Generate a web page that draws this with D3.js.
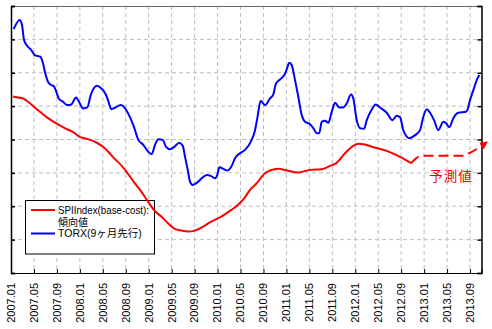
<!DOCTYPE html>
<html><head><meta charset="utf-8">
<script src="https://cdn.jsdelivr.net/npm/d3@7"></script>
<style>
html,body{margin:0;padding:0;background:#fff;}
svg{display:block;font-family:"Liberation Sans",Arial,"Noto Sans CJK JP",sans-serif;}
</style></head>
<body><svg id="c" width="492" height="329"></svg>
<script>
// x tick labels (every 4 months from 2007.01)
const tickLabels = ["2007.01","2007.05","2007.09","2008.01","2008.05","2008.09","2009.01","2009.05","2009.09","2010.01","2010.05","2010.09","2011.01","2011.05","2011.09","2012.01","2012.05","2012.09","2013.01","2013.05","2013.09"];
// months elapsed since 2007.01 for each tick
const tickMonths = tickLabels.map((d,i)=>i*4);

// TORX (9-month lead), months since 2007.01 and index value
const torxMonth = [0.47,1.52,1.92,2.27,2.79,3.54,4.13,5.11,5.58,5.98,6.45,7.02,7.44,7.90,8.31,9.06,9.81,10.51,11.33,11.85,12.55,13.30,13.89,14.41,14.99,15.74,16.44,16.91,17.48,18.18,19.12,19.82,20.39,21.32,22.19,23.06,23.93,24.52,25.10,25.67,26.44,27.02,27.71,28.46,29.33,29.93,30.33,30.80,31.20,31.67,32.47,33.24,34.11,34.81,35.56,35.96,36.31,37.00,37.70,38.47,39.04,39.91,40.78,41.95,42.53,42.93,43.52,44.27,45.14,45.72,46.19,46.88,47.63,48.05,48.51,48.92,49.50,50.07,50.67,51.24,52.11,52.69,53.28,53.73,54.15,54.73,55.30,55.90,56.47,57.22,57.92,58.51,59.26,59.66,60.25,60.83,61.52,62.00,62.87,63.56,64.31,65.48,66.46,67.22,67.80,68.37,69.42,70.41,71.29,71.86,72.45,73.03,73.73,74.47,75.35,75.82,76.39,77.09,77.96,79.30,79.53,80.00,80.58,81.17,81.62];
const torxValue = [73.1,75.8,74.3,69.8,68.1,66.8,65.3,64.8,62.8,59.8,57.3,56.3,56.0,54.3,52.3,51.3,50.3,50.5,52.6,51.3,49.3,49.6,53.3,55.3,56.1,55.3,53.8,51.8,49.1,49.6,50.3,49.5,47.9,44.3,39.9,38.4,36.3,35.6,38.4,40.1,39.9,37.8,37.1,37.8,39.0,38.1,34.8,30.9,27.4,26.4,27.1,28.4,29.4,29.1,28.4,29.4,31.7,31.2,30.7,32.1,34.4,35.9,36.9,39.9,42.8,46.4,51.6,50.3,52.3,53.5,56.8,58.0,59.3,61.0,63.0,62.3,57.8,52.8,47.3,45.3,44.6,43.4,41.9,41.9,45.3,45.6,45.0,48.3,51.0,49.6,49.6,50.8,53.5,52.3,45.8,43.4,43.2,45.8,49.0,50.5,49.6,48.0,45.8,47.1,46.7,42.8,40.4,41.3,42.8,46.8,49.1,48.0,45.8,42.8,45.3,44.9,43.7,46.4,48.0,48.3,48.8,51.8,54.8,57.8,59.3];

// SPI Index (base-cost) trend value
const spiMonth = [0.35,1.22,2.09,2.96,4.13,5.28,6.45,7.90,9.36,10.81,11.97,13.42,14.87,16.03,17.20,18.18,18.65,20.10,21.56,22.71,23.88,25.05,26.20,27.36,28.53,29.68,30.85,32.02,33.17,34.91,36.65,38.40,39.86,40.73,41.66,42.82,44.27,45.14,46.59,48.05,50.07,52.11,54.15,55.60,56.77,58.21,59.66,60.53,61.40,63.15,65.48,67.80,69.72];
const spiValue = [52.9,52.6,52.3,51.3,49.6,48.0,46.4,44.8,43.4,42.2,40.8,40.1,39.1,37.8,35.9,34.0,33.3,30.4,26.9,24.4,21.4,18.6,16.9,14.9,13.2,12.7,12.4,12.7,13.6,15.4,16.9,18.9,20.9,22.6,24.9,26.9,29.9,30.7,31.2,30.7,30.1,30.9,31.1,32.1,33.0,35.9,38.1,38.7,38.6,37.7,36.6,34.8,32.9];

// forecast (予測値) dashed arrow
const fcMonth = [69.72,71.6,78.5,80.3,82.2];
const fcValue = [32.9,35.1,35.1,36.3,38.3];

const yTicks = [0,10,20,30,40,50,60,70,80];

const svg = d3.select("#c");
const L=11, R=481.5, T=6, B=273;
const x = d3.scaleLinear().domain([0,82]).range([L,R]);
const y = d3.scaleLinear().domain([0,80]).range([B,T]);

// grid
const g = svg.append("g");
g.selectAll("line.vg").data(tickMonths.slice(1)).join("line")
  .attr("x1",d=>x(d)).attr("x2",d=>x(d)).attr("y1",T).attr("y2",B)
  .attr("stroke","#bdbdbd").attr("stroke-width",1).attr("stroke-dasharray","4,3");
g.selectAll("line.hg").data(yTicks.slice(1,-1)).join("line")
  .attr("x1",L).attr("x2",R).attr("y1",d=>y(d)).attr("y2",d=>y(d))
  .attr("stroke","#bdbdbd").attr("stroke-width",1).attr("stroke-dasharray","4,3");

// frame
svg.append("line").attr("x1",L).attr("x2",R).attr("y1",T+0.5).attr("y2",T+0.5).attr("stroke","#666");
// axes
const bottom = d3.axisBottom(x).tickValues(tickMonths).tickSize(-4).tickFormat("");
svg.append("g").attr("transform",`translate(0,${B})`).call(bottom)
  .call(s=>s.selectAll("line,path").attr("stroke","#000"));
const left = d3.axisLeft(y).tickValues(yTicks).tickSize(-4).tickFormat("");
svg.append("g").attr("transform",`translate(${L},0)`).call(left)
  .call(s=>s.selectAll("line,path").attr("stroke","#000").attr("stroke-width",1.5));
const right = d3.axisRight(y).tickValues(yTicks).tickSize(-4).tickFormat("");
svg.append("g").attr("transform",`translate(${R},0)`).call(right)
  .call(s=>s.selectAll("line,path").attr("stroke","#000").attr("stroke-width",1.5));

// tick labels
svg.append("g").selectAll("text").data(tickMonths).join("text")
  .attr("transform",d=>`translate(${x(d)},283) rotate(-90)`)
  .attr("text-anchor","end").attr("dy","0.35em")
  .attr("font-size","11px").attr("fill","#000")
  .text((d,i)=>tickLabels[i]);

// legend
const lg = svg.append("g");
lg.append("rect").attr("x",25.5).attr("y",200.5).attr("width",129).attr("height",53.5)
  .attr("fill","#fff").attr("stroke","#000").attr("stroke-width",1);
lg.append("line").attr("x1",31).attr("x2",55).attr("y1",210).attr("y2",210).attr("stroke","#ff0000").attr("stroke-width",2);
lg.append("line").attr("x1",31).attr("x2",55).attr("y1",233.5).attr("y2",233.5).attr("stroke","#0000ff").attr("stroke-width",2);
lg.append("text").attr("x",58).attr("y",210).attr("dy","0.35em").attr("font-size","10.5px")
  .attr("textLength",91).attr("lengthAdjust","spacingAndGlyphs").text("SPIIndex(base-cost):");
lg.append("text").attr("x",58).attr("y",222.5).attr("dy","0.35em").attr("font-size","10px").text("傾向値");
lg.append("text").attr("x",58).attr("y",233.5).attr("dy","0.35em").attr("font-size","10.5px").text("TORX(9ヶ月先行)");

// lines
const line = d3.line().x(d=>x(d[0])).y(d=>y(d[1])).curve(d3.curveMonotoneX);
svg.append("path").datum(spiMonth.map((m,i)=>[m,spiValue[i]]))
  .attr("d",line).attr("fill","none").attr("stroke","#ff0000").attr("stroke-width",2);
svg.append("path").datum(torxMonth.map((m,i)=>[m,torxValue[i]]))
  .attr("d",line).attr("fill","none").attr("stroke","#0000ff").attr("stroke-width",2);

// forecast arrow
svg.append("defs").append("marker").attr("id","arr")
  .attr("viewBox","0 0 10 10").attr("refX",2).attr("refY",5)
  .attr("markerWidth",4).attr("markerHeight",4).attr("orient","auto")
  .append("path").attr("d","M0,0L10,5L0,10z").attr("fill","#ff0000");
svg.append("path").datum(fcMonth.map((m,i)=>[m,fcValue[i]]))
  .attr("d",d3.line().x(d=>x(d[0])).y(d=>y(d[1])).curve(d3.curveMonotoneX))
  .attr("fill","none").attr("stroke","#ff0000").attr("stroke-width",2)
  .attr("stroke-dasharray","10,5").attr("marker-end","url(#arr)");
svg.append("text").attr("x",451).attr("y",180.5).attr("text-anchor","middle")
  .attr("font-size","13.5px").attr("letter-spacing","1px").attr("fill","#ff0000").text("予測値");
</script></body></html>
